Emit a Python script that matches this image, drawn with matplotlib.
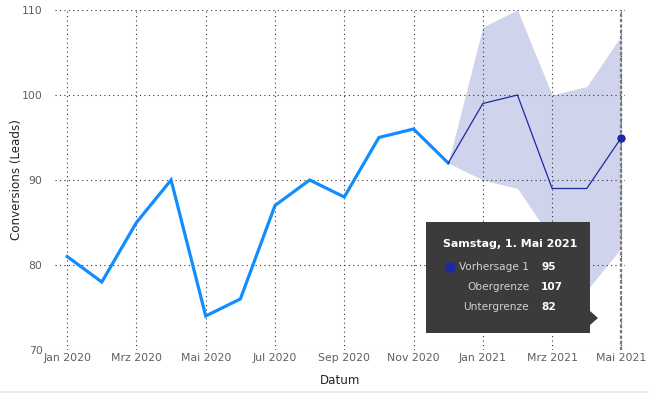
import numpy as np
import matplotlib.pyplot as plt
from matplotlib.patches import Polygon, FancyBboxPatch

# --- data ---
months = list(range(17))  # Jan 2020 .. Mai 2021
tick_pos = [0, 2, 4, 6, 8, 10, 12, 14, 16]
tick_labels = ["Jan 2020", "Mrz 2020", "Mai 2020", "Jul 2020", "Sep 2020",
               "Nov 2020", "Jan 2021", "Mrz 2021", "Mai 2021"]
actual = [81, 78, 85, 90, 74, 76, 87, 90, 88, 95, 96, 92]
fc_x = [11, 12, 13, 14, 15, 16]
forecast = [92, 99, 100, 89, 89, 95]
upper = [92, 108, 110, 100, 101, 107]
lower = [92, 90, 89, 83, 77, 82]

BLUE = "#118DFF"
DARK = "#1B2AA3"
BAND = "#CFD3EC"
GREY = "#605E5C"

fig = plt.figure(figsize=(6.49, 3.94), dpi=100)
ax = fig.add_axes([0.0848, 0.1117, 0.878, 0.8629])

ax.fill_between(fc_x, lower, upper, color=BAND, lw=0, zorder=1)
ax.plot(months[:len(actual)], actual, color=BLUE, lw=2.3, zorder=3,
        solid_joinstyle="miter")
ax.plot(fc_x, forecast, color=DARK, lw=0.9, zorder=3)
ax.plot(fc_x[-1], forecast[-1], "o", color=DARK, ms=5, zorder=4)
ax.axvline(16, color="#777777", lw=1.6, ls=(0, (1.5, 1)), zorder=2)

ax.set_xlim(-0.35, 16.1)
ax.set_ylim(70, 110)
ax.set_xticks(tick_pos)
ax.set_xticklabels(tick_labels)
ax.set_yticks([70, 80, 90, 100, 110])
ax.grid(True, color="#333333", ls=(0, (1, 3)), lw=0.8, zorder=0)
for s in ax.spines.values():
    s.set_visible(False)
ax.tick_params(length=0, labelsize=7.8, labelcolor=GREY, pad=2)
ax.tick_params(axis="y", pad=9)
ax.set_xlabel("Datum", fontsize=8.6, color="#252423", labelpad=8)
ax.set_ylabel("Conversions (Leads)", fontsize=8.6, color="#252423", labelpad=-1)

# --- tooltip ---
W, H = 649, 394
def fx(px): return px / W
def fy(py): return 1 - py / H

box = FancyBboxPatch((fx(426), fy(333)), fx(590) - fx(426), fy(222) - fy(333),
                     boxstyle="square,pad=0", transform=fig.transFigure,
                     fc="#3B3B3B", ec="none", zorder=10)
fig.patches.append(box)
arrow = Polygon([(fx(590), fy(311)), (fx(598), fy(318)), (fx(590), fy(325))],
                closed=True, transform=fig.transFigure, fc="#3B3B3B", ec="none",
                zorder=10)
fig.patches.append(arrow)
fig.text(fx(443), fy(244), "Samstag, 1. Mai 2021", color="white",
         fontsize=7.9, fontweight="bold", va="center", zorder=11)
fig.add_artist(plt.Line2D([fx(450)], [fy(267)], marker="o", ms=6.5,
                          color="#1B2AA3", transform=fig.transFigure, zorder=11))
rows = [("Vorhersage 1", "95", 267), ("Obergrenze", "107", 287),
        ("Untergrenze", "82", 307)]
for lab, val, py in rows:
    fig.text(fx(529), fy(py), lab, color="#D0D0D0", fontsize=7.6,
             ha="right", va="center", zorder=11)
    fig.text(fx(541), fy(py), val, color="white", fontsize=7.6,
             fontweight="bold", va="center", zorder=11)

fig.add_artist(plt.Line2D([0, 1], [fy(392), fy(392)], color="#E8E8E8", lw=1.2))

fig.savefig("out.png", dpi=100)
